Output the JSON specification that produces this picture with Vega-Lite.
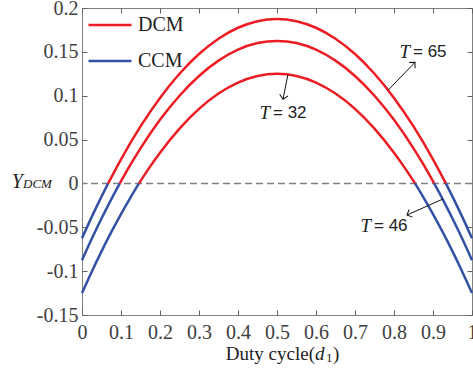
{
  "$schema": "https://vega.github.io/schema/vega-lite/v6.json",
  "width": 390,
  "height": 307,
  "padding": {"left": 82, "top": 8, "right": 1, "bottom": 58},
  "autosize": {"type": "none"},
  "background": "white",
  "config": {
    "view": {"stroke": "#808080", "strokeWidth": 1},
    "axis": {"domain": false, "grid": false, "tickColor": "#606060", "tickSize": -5, "labelFont": "Liberation Serif", "labelFontSize": 20, "labelColor": "#404040", "title": null},
    "legend": {"orient": "none", "legendX": 5, "legendY": 3, "title": null, "symbolType": "stroke", "symbolSize": 1849, "symbolStrokeWidth": 2.5, "labelFont": "Liberation Serif", "labelFontSize": 20, "labelColor": "#222222", "labelOffset": 5, "clipHeight": 28, "rowPadding": 8, "padding": 0}
  },
  "datasets": {
    "curves": [
      {"d": 0, "y": -0.0625, "s": "65L", "m": "CCM"},
      {"d": 0.025, "y": -0.0381, "s": "65L", "m": "CCM"},
      {"d": 0.05, "y": -0.015, "s": "65L", "m": "CCM"},
      {"d": 0.067, "y": 0, "s": "65L", "m": "CCM"},
      {"d": 0.067, "y": 0, "s": "65M", "m": "DCM"},
      {"d": 0.1, "y": 0.0275, "s": "65M", "m": "DCM"},
      {"d": 0.15, "y": 0.065, "s": "65M", "m": "DCM"},
      {"d": 0.2, "y": 0.0975, "s": "65M", "m": "DCM"},
      {"d": 0.25, "y": 0.125, "s": "65M", "m": "DCM"},
      {"d": 0.3, "y": 0.1475, "s": "65M", "m": "DCM"},
      {"d": 0.35, "y": 0.165, "s": "65M", "m": "DCM"},
      {"d": 0.4, "y": 0.1775, "s": "65M", "m": "DCM"},
      {"d": 0.45, "y": 0.185, "s": "65M", "m": "DCM"},
      {"d": 0.5, "y": 0.1875, "s": "65M", "m": "DCM"},
      {"d": 0.55, "y": 0.185, "s": "65M", "m": "DCM"},
      {"d": 0.6, "y": 0.1775, "s": "65M", "m": "DCM"},
      {"d": 0.65, "y": 0.165, "s": "65M", "m": "DCM"},
      {"d": 0.7, "y": 0.1475, "s": "65M", "m": "DCM"},
      {"d": 0.75, "y": 0.125, "s": "65M", "m": "DCM"},
      {"d": 0.8, "y": 0.0975, "s": "65M", "m": "DCM"},
      {"d": 0.85, "y": 0.065, "s": "65M", "m": "DCM"},
      {"d": 0.9, "y": 0.0275, "s": "65M", "m": "DCM"},
      {"d": 0.933, "y": 0, "s": "65M", "m": "DCM"},
      {"d": 0.933, "y": 0, "s": "65R", "m": "CCM"},
      {"d": 0.95, "y": -0.015, "s": "65R", "m": "CCM"},
      {"d": 0.975, "y": -0.0381, "s": "65R", "m": "CCM"},
      {"d": 1, "y": -0.0625, "s": "65R", "m": "CCM"},

      {"d": 0, "y": -0.0875, "s": "46L", "m": "CCM"},
      {"d": 0.025, "y": -0.0631, "s": "46L", "m": "CCM"},
      {"d": 0.05, "y": -0.04, "s": "46L", "m": "CCM"},
      {"d": 0.075, "y": -0.0181, "s": "46L", "m": "CCM"},
      {"d": 0.097, "y": 0, "s": "46L", "m": "CCM"},
      {"d": 0.097, "y": 0, "s": "46M", "m": "DCM"},
      {"d": 0.125, "y": 0.0219, "s": "46M", "m": "DCM"},
      {"d": 0.15, "y": 0.04, "s": "46M", "m": "DCM"},
      {"d": 0.2, "y": 0.0725, "s": "46M", "m": "DCM"},
      {"d": 0.25, "y": 0.1, "s": "46M", "m": "DCM"},
      {"d": 0.3, "y": 0.1225, "s": "46M", "m": "DCM"},
      {"d": 0.35, "y": 0.14, "s": "46M", "m": "DCM"},
      {"d": 0.4, "y": 0.1525, "s": "46M", "m": "DCM"},
      {"d": 0.45, "y": 0.16, "s": "46M", "m": "DCM"},
      {"d": 0.5, "y": 0.1625, "s": "46M", "m": "DCM"},
      {"d": 0.55, "y": 0.16, "s": "46M", "m": "DCM"},
      {"d": 0.6, "y": 0.1525, "s": "46M", "m": "DCM"},
      {"d": 0.65, "y": 0.14, "s": "46M", "m": "DCM"},
      {"d": 0.7, "y": 0.1225, "s": "46M", "m": "DCM"},
      {"d": 0.75, "y": 0.1, "s": "46M", "m": "DCM"},
      {"d": 0.8, "y": 0.0725, "s": "46M", "m": "DCM"},
      {"d": 0.85, "y": 0.04, "s": "46M", "m": "DCM"},
      {"d": 0.875, "y": 0.0219, "s": "46M", "m": "DCM"},
      {"d": 0.903, "y": 0, "s": "46M", "m": "DCM"},
      {"d": 0.903, "y": 0, "s": "46R", "m": "CCM"},
      {"d": 0.925, "y": -0.0181, "s": "46R", "m": "CCM"},
      {"d": 0.95, "y": -0.04, "s": "46R", "m": "CCM"},
      {"d": 0.975, "y": -0.0631, "s": "46R", "m": "CCM"},
      {"d": 1, "y": -0.0875, "s": "46R", "m": "CCM"},

      {"d": 0, "y": -0.125, "s": "32L", "m": "CCM"},
      {"d": 0.025, "y": -0.1006, "s": "32L", "m": "CCM"},
      {"d": 0.05, "y": -0.0775, "s": "32L", "m": "CCM"},
      {"d": 0.075, "y": -0.0556, "s": "32L", "m": "CCM"},
      {"d": 0.1, "y": -0.035, "s": "32L", "m": "CCM"},
      {"d": 0.125, "y": -0.0156, "s": "32L", "m": "CCM"},
      {"d": 0.146, "y": 0, "s": "32L", "m": "CCM"},
      {"d": 0.146, "y": 0, "s": "32M", "m": "DCM"},
      {"d": 0.175, "y": 0.0194, "s": "32M", "m": "DCM"},
      {"d": 0.2, "y": 0.035, "s": "32M", "m": "DCM"},
      {"d": 0.25, "y": 0.0625, "s": "32M", "m": "DCM"},
      {"d": 0.3, "y": 0.085, "s": "32M", "m": "DCM"},
      {"d": 0.35, "y": 0.1025, "s": "32M", "m": "DCM"},
      {"d": 0.4, "y": 0.115, "s": "32M", "m": "DCM"},
      {"d": 0.45, "y": 0.1225, "s": "32M", "m": "DCM"},
      {"d": 0.5, "y": 0.125, "s": "32M", "m": "DCM"},
      {"d": 0.55, "y": 0.1225, "s": "32M", "m": "DCM"},
      {"d": 0.6, "y": 0.115, "s": "32M", "m": "DCM"},
      {"d": 0.65, "y": 0.1025, "s": "32M", "m": "DCM"},
      {"d": 0.7, "y": 0.085, "s": "32M", "m": "DCM"},
      {"d": 0.75, "y": 0.0625, "s": "32M", "m": "DCM"},
      {"d": 0.8, "y": 0.035, "s": "32M", "m": "DCM"},
      {"d": 0.825, "y": 0.0194, "s": "32M", "m": "DCM"},
      {"d": 0.854, "y": 0, "s": "32M", "m": "DCM"},
      {"d": 0.854, "y": 0, "s": "32R", "m": "CCM"},
      {"d": 0.875, "y": -0.0156, "s": "32R", "m": "CCM"},
      {"d": 0.9, "y": -0.035, "s": "32R", "m": "CCM"},
      {"d": 0.925, "y": -0.0556, "s": "32R", "m": "CCM"},
      {"d": 0.95, "y": -0.0775, "s": "32R", "m": "CCM"},
      {"d": 0.975, "y": -0.1006, "s": "32R", "m": "CCM"},
      {"d": 1, "y": -0.125, "s": "32R", "m": "CCM"}
    ],
    "arrows": [
      {"x": 0.7846, "y": 0.1062, "x2": 0.8538, "y2": 0.138, "a": 44},
      {"x": 0.5282, "y": 0.1244, "x2": 0.5154, "y2": 0.096, "a": 191},
      {"x": 0.9256, "y": -0.0178, "x2": 0.8333, "y2": -0.036, "a": 246}
    ],
    "notes": [
      {"x": 0.841, "y": 0.1494, "label": "= 65"},
      {"x": 0.482, "y": 0.08, "label": "= 32"},
      {"x": 0.741, "y": -0.0485, "label": "= 46"}
    ]
  },
  "layer": [
    {
      "data": {"values": [{}]},
      "mark": {"type": "rule", "strokeDash": [7, 4], "color": "#808080", "strokeWidth": 1.5},
      "encoding": {
        "y": {"datum": 0, "type": "quantitative", "axis": null, "scale": {"domain": [-0.15, 0.2], "nice": false}}
      }
    },
    {
      "data": {"name": "curves"},
      "mark": {"type": "line", "interpolate": "monotone", "strokeWidth": 2.5},
      "encoding": {
        "x": {"field": "d", "type": "quantitative", "scale": {"domain": [0, 1], "nice": false}, "axis": {"orient": "bottom", "values": [0, 0.1, 0.2, 0.3, 0.4, 0.5, 0.6, 0.7, 0.8, 0.9, 1], "format": "~g", "labelPadding": 12, "labelFlush": false}},
        "y": {"field": "y", "type": "quantitative", "scale": {"domain": [-0.15, 0.2], "nice": false}, "axis": {"orient": "left", "values": [-0.15, -0.1, -0.05, 0, 0.05, 0.1, 0.15, 0.2], "format": "~g", "labelExpr": "replace(datum.label, '\u2212', '-')", "labelPadding": 9}},
        "color": {"field": "m", "type": "nominal", "scale": {"domain": ["DCM", "CCM"], "range": ["#ec1c24", "#3352a4"]}},
        "detail": {"field": "s"}
      }
    },
    {
      "data": {"name": "curves"},
      "mark": {"type": "point", "opacity": 0},
      "encoding": {
        "x": {"field": "d", "type": "quantitative", "scale": {"domain": [0, 1], "nice": false}, "axis": {"orient": "top", "labels": false, "values": [0, 0.1, 0.2, 0.3, 0.4, 0.5, 0.6, 0.7, 0.8, 0.9, 1]}},
        "y": {"field": "y", "type": "quantitative", "scale": {"domain": [-0.15, 0.2], "nice": false}, "axis": {"orient": "right", "labels": false, "values": [-0.15, -0.1, -0.05, 0, 0.05, 0.1, 0.15, 0.2]}}
      }
    },
    {
      "data": {"name": "arrows"},
      "mark": {"type": "rule", "color": "#111111", "strokeWidth": 1},
      "encoding": {
        "x": {"field": "x", "type": "quantitative", "axis": null, "scale": {"domain": [0, 1], "nice": false}},
        "y": {"field": "y", "type": "quantitative", "axis": null, "scale": {"domain": [-0.15, 0.2], "nice": false}},
        "x2": {"field": "x2"},
        "y2": {"field": "y2"}
      }
    },
    {
      "data": {"name": "arrows"},
      "mark": {"type": "point", "shape": "M-1,1L0,0L1,1", "filled": false, "stroke": "#111111", "strokeWidth": 1, "size": 70, "opacity": 1},
      "encoding": {
        "x": {"field": "x2", "type": "quantitative", "axis": null, "scale": {"domain": [0, 1], "nice": false}},
        "y": {"field": "y2", "type": "quantitative", "axis": null, "scale": {"domain": [-0.15, 0.2], "nice": false}},
        "angle": {"field": "a", "type": "quantitative", "scale": null}
      }
    },
    {
      "data": {"name": "notes"},
      "mark": {"type": "text", "text": "T", "font": "Liberation Serif", "fontStyle": "italic", "fontSize": 19, "align": "right", "baseline": "middle", "color": "#222222"},
      "encoding": {
        "x": {"field": "x", "type": "quantitative", "axis": null, "scale": {"domain": [0, 1], "nice": false}},
        "y": {"field": "y", "type": "quantitative", "axis": null, "scale": {"domain": [-0.15, 0.2], "nice": false}}
      }
    },
    {
      "data": {"name": "notes"},
      "mark": {"type": "text", "font": "Liberation Sans", "fontSize": 17, "align": "left", "baseline": "middle", "dx": 3, "color": "#222222"},
      "encoding": {
        "x": {"field": "x", "type": "quantitative", "axis": null, "scale": {"domain": [0, 1], "nice": false}},
        "y": {"field": "y", "type": "quantitative", "axis": null, "scale": {"domain": [-0.15, 0.2], "nice": false}},
        "text": {"field": "label"}
      }
    },
    {
      "data": {"values": [{}]},
      "mark": {"type": "text", "text": "Duty cycle(", "font": "Liberation Serif", "fontSize": 19, "align": "right", "baseline": "alphabetic", "color": "#222222"},
      "encoding": {
        "x": {"datum": 0.5974, "type": "quantitative", "axis": null, "scale": {"domain": [0, 1], "nice": false}},
        "y": {"datum": -0.2008, "type": "quantitative", "axis": null, "scale": {"domain": [-0.15, 0.2], "nice": false}}
      }
    },
    {
      "data": {"values": [{}]},
      "mark": {"type": "text", "text": "d", "font": "Liberation Serif", "fontStyle": "italic", "fontSize": 19, "align": "left", "baseline": "alphabetic", "color": "#222222"},
      "encoding": {
        "x": {"datum": 0.5974, "type": "quantitative", "axis": null, "scale": {"domain": [0, 1], "nice": false}},
        "y": {"datum": -0.2008, "type": "quantitative", "axis": null, "scale": {"domain": [-0.15, 0.2], "nice": false}}
      }
    },
    {
      "data": {"values": [{}]},
      "mark": {"type": "text", "text": "1", "font": "Liberation Serif", "fontSize": 13, "align": "left", "baseline": "alphabetic", "color": "#222222"},
      "encoding": {
        "x": {"datum": 0.6256, "type": "quantitative", "axis": null, "scale": {"domain": [0, 1], "nice": false}},
        "y": {"datum": -0.2031, "type": "quantitative", "axis": null, "scale": {"domain": [-0.15, 0.2], "nice": false}}
      }
    },
    {
      "data": {"values": [{}]},
      "mark": {"type": "text", "text": ")", "font": "Liberation Serif", "fontSize": 19, "align": "left", "baseline": "alphabetic", "color": "#222222"},
      "encoding": {
        "x": {"datum": 0.6436, "type": "quantitative", "axis": null, "scale": {"domain": [0, 1], "nice": false}},
        "y": {"datum": -0.2008, "type": "quantitative", "axis": null, "scale": {"domain": [-0.15, 0.2], "nice": false}}
      }
    },
    {
      "data": {"values": [{}]},
      "mark": {"type": "text", "text": "Y", "font": "Liberation Serif", "fontStyle": "italic", "fontSize": 20, "align": "right", "baseline": "alphabetic", "color": "#222222"},
      "encoding": {
        "x": {"datum": -0.1513, "type": "quantitative", "axis": null, "scale": {"domain": [0, 1], "nice": false}},
        "y": {"datum": -0.0056, "type": "quantitative", "axis": null, "scale": {"domain": [-0.15, 0.2], "nice": false}}
      }
    },
    {
      "data": {"values": [{}]},
      "mark": {"type": "text", "text": "DCM", "font": "Liberation Serif", "fontStyle": "italic", "fontSize": 13, "align": "left", "baseline": "alphabetic", "color": "#222222"},
      "encoding": {
        "x": {"datum": -0.1513, "type": "quantitative", "axis": null, "scale": {"domain": [0, 1], "nice": false}},
        "y": {"datum": -0.0056, "type": "quantitative", "axis": null, "scale": {"domain": [-0.15, 0.2], "nice": false}}
      }
    }
  ],
  "resolve": {"axis": {"x": "independent", "y": "independent"}}
}
